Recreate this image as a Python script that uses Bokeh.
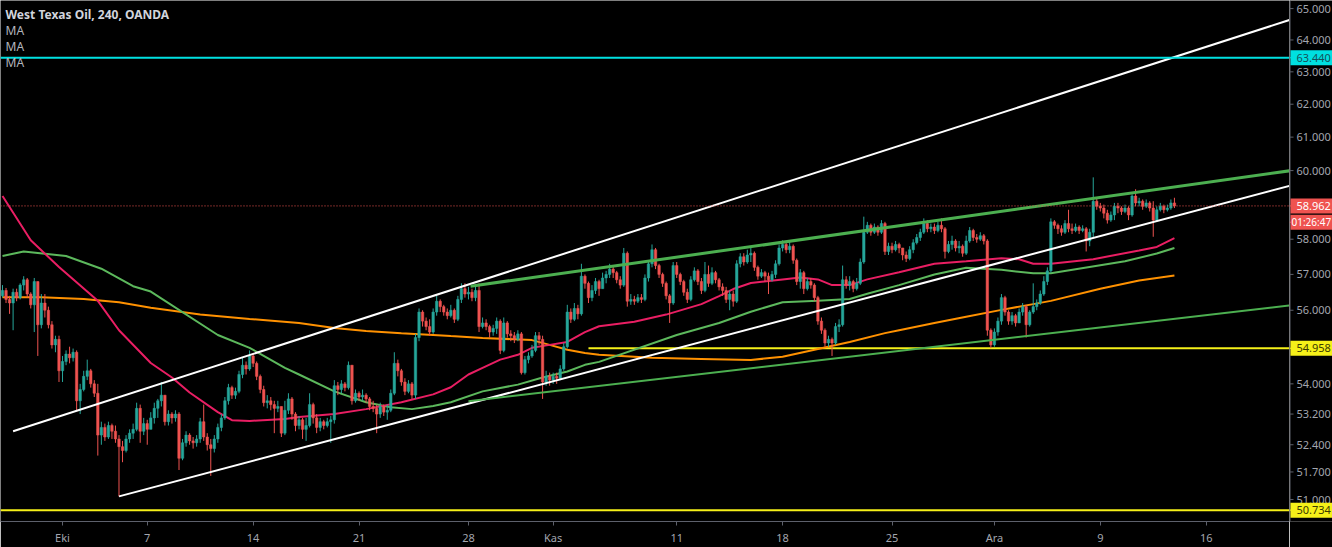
from bokeh.plotting import figure
from bokeh.models import Range1d, FixedTicker, Label, Span, ColumnDataSource
from bokeh.layouts import row
from bokeh.core.properties import value
from bokeh.embed import file_html
from bokeh.resources import INLINE

# ---------------- data ----------------
title_text = "West Texas Oil, 240, OANDA"
legend_texts = ["MA", "MA", "MA"]

first_open = 56.40
closes = [56.55, 56.30, 56.20, 56.50, 56.35, 56.70, 56.85, 56.45, 56.15, 56.80,
          55.60, 56.20, 56.00, 55.60, 55.05, 55.20, 54.35, 54.60, 54.80, 54.70,
          54.85, 53.55, 53.85, 54.20, 54.35, 54.00, 53.75, 52.65, 52.85, 52.60,
          52.90, 52.75, 52.55, 52.35, 52.25, 52.55, 52.70, 52.80, 53.35, 52.75,
          52.95, 52.80, 53.10, 53.35, 53.55, 53.70, 53.00, 53.20, 53.10, 53.20,
          52.05, 52.45, 52.65, 52.50, 52.45, 52.55, 53.00, 52.60, 52.40, 52.30,
          52.55, 52.85, 53.10, 53.55, 53.90, 53.70, 53.80, 54.25, 54.50, 54.40,
          54.75, 54.55, 54.20, 53.85, 53.50, 53.55, 53.45, 53.35, 53.40, 52.70,
          53.30, 53.60, 53.20, 52.90, 53.05, 52.80, 52.90, 53.45, 53.10, 52.85,
          53.00, 52.90, 53.00, 53.05, 53.95, 53.85, 54.00, 53.90, 54.50, 53.55,
          53.75, 53.65, 53.70, 53.60, 53.40, 53.35, 53.20, 53.40, 53.25, 53.30,
          53.75, 54.55, 54.35, 54.05, 53.80, 54.00, 53.70, 55.25, 55.95, 55.70,
          55.55, 55.40, 55.95, 56.25, 56.10, 55.95, 55.85, 56.00, 55.75, 56.30,
          56.60, 56.45, 56.50, 56.35, 56.55, 55.55, 55.65, 55.55, 55.40, 55.50,
          55.70, 54.90, 55.65, 55.35, 55.30, 55.20, 55.35, 54.30, 54.65, 54.75,
          54.90, 55.30, 55.20, 54.05, 54.20, 54.10, 54.20, 54.15, 54.40, 55.00,
          55.95, 55.75, 56.05, 55.90, 56.95, 56.75, 56.35, 56.55, 56.80, 56.60,
          56.90, 57.00, 57.15, 57.05, 56.85, 56.70, 57.60, 56.25, 56.30, 56.25,
          56.35, 56.30, 56.90, 57.30, 57.70, 57.25, 57.00, 56.75, 56.40, 56.20,
          57.25, 57.00, 56.80, 56.50, 56.30, 56.85, 57.10, 56.80, 56.55, 57.00,
          56.75, 57.05, 56.85, 56.65, 56.55, 56.30, 56.45, 56.25, 57.30, 57.50,
          57.35, 57.55, 57.60, 57.20, 56.95, 57.05, 56.95, 56.85, 57.00, 57.30,
          57.75, 57.85, 57.70, 57.80, 57.40, 56.80, 57.05, 56.60, 56.80, 56.70,
          56.35, 55.70, 55.45, 55.10, 55.20, 55.10, 55.55, 55.60, 56.85, 56.70,
          56.80, 56.60, 56.75, 57.35, 58.20, 58.40, 58.20, 58.35, 58.20, 58.45,
          57.65, 57.80, 57.70, 57.85, 57.75, 57.55, 57.45, 57.70, 57.90, 58.05,
          58.20, 58.45, 58.30, 58.35, 58.25, 58.40, 58.30, 57.65, 57.85, 57.95,
          57.75, 57.80, 57.60, 57.95, 58.25, 58.05, 58.00, 58.10, 57.95, 55.45,
          55.05, 55.40, 55.70, 56.35, 55.95, 55.70, 55.85, 55.65, 55.95, 56.10,
          55.60, 55.95, 56.10, 56.20, 56.45, 56.80, 57.10, 58.50, 58.40, 58.30,
          58.20, 58.45, 58.30, 58.25, 58.35, 58.25, 58.30, 57.95, 58.20, 59.10,
          58.95, 58.90, 58.75, 58.55, 58.70, 58.95, 58.90, 58.80, 58.90, 58.70,
          59.25, 59.05, 59.10, 58.95, 59.05, 58.90, 58.55, 58.85, 58.95, 58.85,
          58.90, 59.05, 58.96]
highs = [56.70, 56.62, 56.40, 56.60, 56.60, 56.75, 56.95, 56.90, 56.50, 56.90,
         56.80, 56.45, 56.45, 56.10, 55.70, 55.30, 55.30, 54.75, 54.90, 55.00,
         54.95, 54.90, 54.00, 54.35, 54.65, 54.40, 54.10, 54.00, 53.00, 52.95,
         53.00, 52.95, 52.90, 52.65, 52.50, 52.65, 52.80, 52.95, 53.50, 53.45,
         53.10, 53.05, 53.25, 53.50, 53.60, 54.05, 53.70, 53.30, 53.25, 53.30,
         53.25, 52.55, 52.75, 52.70, 52.60, 52.65, 53.10, 53.45, 52.70, 52.55,
         52.65, 52.95, 53.20, 53.65, 54.00, 53.95, 53.90, 54.35, 54.70, 54.60,
         54.90, 54.80, 54.60, 54.25, 53.95, 53.70, 53.65, 53.55, 53.55, 53.40,
         53.55, 53.75, 53.65, 53.25, 53.15, 53.10, 53.10, 53.75, 53.50, 53.20,
         53.10, 53.05, 53.10, 53.15, 54.10, 54.05, 54.10, 54.05, 54.60, 54.50,
         53.85, 53.80, 53.85, 53.75, 53.65, 53.55, 53.45, 53.50, 53.45, 53.45,
         53.85, 54.85, 54.65, 54.40, 54.15, 54.10, 54.05, 55.35, 56.05, 56.00,
         55.80, 55.75, 56.05, 56.40, 56.30, 56.15, 56.05, 56.15, 56.05, 56.40,
         56.75, 56.75, 56.65, 56.60, 56.70, 56.75, 55.80, 55.75, 55.60, 55.60,
         55.80, 55.75, 55.80, 55.70, 55.45, 55.40, 55.45, 55.40, 54.75, 54.85,
         55.05, 55.40, 55.40, 55.30, 54.35, 54.30, 54.30, 54.30, 54.50, 55.10,
         56.15, 56.05, 56.20, 56.15, 57.30, 57.00, 56.80, 56.70, 56.90, 56.85,
         57.05, 57.10, 57.30, 57.25, 57.10, 56.95, 57.75, 57.65, 56.45, 56.40,
         56.45, 56.45, 57.00, 57.40, 57.85, 57.75, 57.30, 57.05, 56.80, 56.45,
         57.35, 57.35, 57.05, 56.85, 56.60, 56.95, 57.20, 57.15, 56.90, 57.35,
         57.25, 57.20, 57.10, 56.90, 56.75, 56.65, 56.55, 56.55, 57.40, 57.60,
         57.60, 57.70, 57.75, 57.65, 57.25, 57.15, 57.10, 57.05, 57.10, 57.40,
         57.85, 57.97, 57.90, 57.95, 57.85, 57.45, 57.15, 57.10, 56.90, 56.90,
         56.75, 56.40, 55.80, 55.50, 55.30, 55.25, 55.65, 55.75, 57.25, 56.95,
         56.95, 56.85, 56.90, 57.45, 58.65, 58.50, 58.45, 58.45, 58.40, 58.55,
         58.50, 57.90, 57.90, 57.95, 57.90, 57.75, 57.65, 57.80, 58.00, 58.15,
         58.30, 58.60, 58.55, 58.45, 58.45, 58.50, 58.60, 58.35, 57.95, 58.10,
         58.00, 57.95, 57.85, 58.10, 58.35, 58.30, 58.15, 58.20, 58.15, 58.00,
         55.50, 55.50, 55.80, 56.45, 56.40, 56.00, 55.95, 55.90, 56.05, 56.20,
         56.15, 56.00, 56.75, 56.30, 56.55, 56.95, 57.20, 58.60, 58.55, 58.45,
         58.40, 58.55, 58.85, 58.45, 58.45, 58.40, 58.40, 58.35, 58.30, 59.80,
         59.20, 59.05, 59.00, 58.85, 58.80, 59.05, 59.05, 58.95, 59.00, 58.95,
         59.30, 59.45, 59.20, 59.15, 59.15, 59.10, 59.10, 58.95, 59.05, 59.00,
         59.00, 59.15, 59.20]
lows = [56.35, 56.20, 55.90, 55.45, 56.25, 56.30, 56.55, 56.35, 56.05, 55.40,
        54.75, 55.50, 55.80, 55.50, 54.95, 54.85, 54.05, 54.05, 54.50, 54.55,
        54.60, 53.30, 53.20, 53.80, 54.10, 53.90, 53.65, 52.12, 52.40, 52.50,
        52.55, 52.55, 52.45, 51.08, 51.95, 52.20, 52.45, 52.55, 52.75, 52.45,
        52.65, 52.40, 52.80, 52.95, 53.10, 53.40, 52.90, 52.90, 52.95, 53.00,
        51.75, 52.00, 52.35, 52.40, 52.30, 52.35, 52.45, 52.50, 52.25, 51.60,
        52.20, 52.45, 52.75, 53.05, 53.45, 53.60, 53.60, 53.75, 54.15, 54.25,
        54.35, 54.45, 54.10, 53.75, 53.40, 53.35, 53.30, 52.70, 53.25, 52.60,
        52.65, 53.20, 53.05, 52.75, 52.80, 52.55, 52.50, 52.85, 52.95, 52.70,
        52.75, 52.80, 52.85, 52.45, 52.95, 53.70, 53.75, 53.80, 53.85, 53.45,
        53.50, 53.55, 53.55, 53.50, 53.30, 53.25, 52.70, 53.10, 53.15, 53.05,
        53.25, 53.70, 54.20, 53.95, 53.70, 53.75, 53.60, 53.60, 55.15, 55.55,
        55.45, 55.30, 55.35, 55.85, 55.95, 55.85, 55.75, 55.80, 55.65, 55.70,
        56.20, 56.35, 56.30, 56.25, 56.25, 55.40, 55.50, 55.45, 55.25, 55.30,
        55.35, 54.80, 54.85, 55.25, 55.15, 55.10, 55.15, 54.25, 54.25, 54.55,
        54.70, 54.85, 55.05, 53.60, 53.95, 53.95, 54.00, 54.00, 54.10, 54.35,
        54.95, 55.65, 55.70, 55.75, 55.85, 56.60, 56.20, 56.25, 56.45, 56.40,
        56.60, 56.75, 56.90, 56.90, 56.75, 56.60, 56.65, 56.10, 56.15, 56.15,
        56.20, 56.20, 56.25, 56.80, 57.20, 57.15, 56.90, 56.65, 56.30, 55.65,
        56.15, 56.90, 56.70, 56.40, 56.20, 56.25, 56.80, 56.70, 56.45, 56.50,
        56.65, 56.70, 56.75, 56.55, 56.40, 56.20, 56.00, 56.10, 56.20, 57.20,
        57.25, 57.30, 57.35, 57.10, 56.85, 56.90, 56.80, 56.45, 56.80, 56.90,
        57.25, 57.65, 57.60, 57.60, 57.30, 56.70, 56.60, 56.45, 56.55, 56.60,
        56.25, 55.60, 55.35, 55.00, 55.00, 54.75, 55.05, 55.40, 55.55, 56.60,
        56.55, 56.50, 56.55, 56.70, 57.30, 58.15, 58.10, 58.15, 58.10, 58.15,
        57.55, 57.55, 57.60, 57.65, 57.60, 57.40, 57.35, 57.40, 57.60, 57.85,
        57.95, 58.15, 58.20, 58.20, 58.15, 58.20, 58.20, 57.45, 57.60, 57.70,
        57.65, 57.60, 57.50, 57.55, 57.90, 57.95, 57.90, 57.95, 57.85, 55.30,
        54.96, 55.00, 55.30, 55.60, 55.85, 55.60, 55.60, 55.55, 55.65, 55.85,
        55.25, 55.55, 55.90, 56.00, 56.15, 56.40, 56.70, 57.05, 58.30, 58.15,
        58.10, 58.15, 58.20, 58.15, 58.20, 58.15, 58.20, 57.65, 57.80, 58.05,
        58.85, 58.80, 58.60, 58.45, 58.50, 58.55, 58.75, 58.70, 58.75, 58.55,
        58.65, 58.95, 58.95, 58.85, 58.90, 58.80, 58.07, 58.50, 58.80, 58.75,
        58.80, 58.85, 58.90]

# moving averages (bar index, price)
ma_fast_idx = [0, 8, 16, 27, 33, 42, 48, 53, 61, 65, 70, 80, 84, 94, 103, 113, 122, 127, 132, 136,
               141, 146, 150, 155, 160, 165, 169, 179, 188, 198, 203, 207, 212, 221, 226, 231, 235,
               240, 245, 254, 264, 273, 283, 288, 292, 297, 309, 322, 327, 332]
ma_fast_val = [59.25, 57.97, 57.21, 56.26, 55.45, 54.56, 54.17, 53.77, 53.25, 53.04, 53.02, 53.07,
               53.12, 53.20, 53.33, 53.51, 53.72, 53.91, 54.25, 54.43, 54.65, 54.78, 54.97, 55.05,
               55.13, 55.40, 55.56, 55.68, 55.88, 56.17, 56.39, 56.59, 56.76, 56.86, 56.91, 56.86,
               56.70, 56.70, 56.86, 57.06, 57.30, 57.37, 57.46, 57.43, 57.30, 57.30, 57.43, 57.68,
               57.78, 58.03]
ma_mid_idx = [0, 6, 18, 28, 37, 42, 61, 70, 75, 80, 84, 94, 103, 110, 116, 122, 127, 136, 146, 153,
              160, 165, 169, 191, 203, 212, 221, 231, 240, 245, 254, 264, 273, 278, 283, 292, 297,
              318, 327, 332]
ma_mid_val = [57.52, 57.65, 57.52, 57.16, 56.67, 56.52, 55.32, 54.97, 54.70, 54.43, 54.25, 53.80,
              53.51, 53.38, 53.33, 53.41, 53.51, 53.80, 53.98, 54.17, 54.33, 54.51, 54.59, 55.32,
              55.65, 55.96, 56.22, 56.26, 56.31, 56.46, 56.70, 57.00, 57.19, 57.16, 57.13, 57.03,
              57.03, 57.37, 57.59, 57.75]
ma_slow_idx = [0, 11, 23, 33, 42, 56, 70, 84, 94, 103, 113, 122, 127, 136, 150, 155, 160, 165, 169,
               184, 198, 212, 221, 231, 240, 250, 254, 264, 273, 283, 292, 297, 311, 322, 332]
ma_slow_val = [56.36, 56.36, 56.31, 56.22, 56.07, 55.88, 55.76, 55.65, 55.51, 55.43, 55.37, 55.32,
               55.29, 55.24, 55.18, 55.05, 54.92, 54.83, 54.78, 54.70, 54.67, 54.64, 54.73, 54.94,
               55.13, 55.37, 55.45, 55.65, 55.82, 56.01, 56.17, 56.26, 56.60, 56.83, 56.97]

# drawn trend lines: (x0, price0, x1, price1)
white_lines = [(3, 52.75, 365, 64.65), (33, 51.08, 365, 59.56)]
green_lines = [(132.6, 56.67, 365, 60.00), (132, 53.54, 365, 56.14)]
green_line_widths = [3, 2]

level_cyan = 63.440
level_last = 58.962
level_yellow_mid = 54.958
level_yellow_mid_start = 166
level_yellow_low = 50.734
countdown_text = "01:26:47"

x_tick_pos = [17, 41, 71, 101, 132, 156, 191, 221, 252, 281, 311, 341]
x_tick_labels = ["Eki", "7", "14", "21", "28", "Kas", "11", "18", "25", "Ara", "9", "16"]
y_ticks = [51.0, 51.7, 52.4, 53.2, 54.0, 56.0, 57.0, 58.0, 60.0, 61.0, 62.0, 63.0, 64.0, 65.0]

# ---------------- styles / layout ----------------
UP = "#26a69a"
DOWN = "#ef5350"
BG = "#000000"
AXIS_TXT = "#a3a6af"
AXIS_LINE = "#5d606b"
CYAN = "#00e0e0"
YELLOW = "#f5f019"
FONT = "Noto Sans"
W_MAIN, W_AXIS, H, H_XAXIS = 1289, 43, 547, 25
Y_TOP, Y_BOT = 65.26, 50.45
X_RANGE = (-0.57, 364.6)
countdown_y = 58.49

idx = list(range(len(closes)))
opens = [first_open] + closes[:-1]
tops = [max(o, c) for o, c in zip(opens, closes)]
bots = [min(o, c) for o, c in zip(opens, closes)]
hi = [max(h, t) for h, t in zip(highs, tops)]
lo = [min(l, b) for l, b in zip(lows, bots)]
colors = [UP if c >= o else DOWN for o, c in zip(opens, closes)]
src = ColumnDataSource(dict(x=idx, top=tops, bottom=bots, hi=hi, lo=lo, color=colors))

y_range = Range1d(Y_BOT, Y_TOP)

# ---------- main chart ----------
p = figure(width=W_MAIN, height=H, x_range=Range1d(*X_RANGE),
           y_range=y_range, y_axis_type="log", y_axis_location=None,
           output_backend="svg", toolbar_location=None,
           min_border_left=0, min_border_top=0, min_border_right=0, min_border_bottom=H_XAXIS)
p.background_fill_color = BG
p.border_fill_color = BG
p.outline_line_color = None
p.xgrid.visible = False
p.ygrid.visible = False

p.xaxis.ticker = FixedTicker(ticks=x_tick_pos)
p.xaxis.major_label_overrides = {k: v for k, v in zip(x_tick_pos, x_tick_labels)}
ax = p.xaxis[0]
ax.axis_line_color = AXIS_LINE
ax.major_tick_line_color = AXIS_LINE
ax.minor_tick_line_color = None
ax.major_tick_out = 4
ax.major_tick_in = 0
ax.major_label_text_color = AXIS_TXT
ax.major_label_text_font = FONT
ax.major_label_text_font_size = "11px"
ax.major_label_standoff = 4

# horizontal levels
p.add_layout(Span(location=level_cyan, dimension="width", line_color=CYAN, line_width=2))
p.add_layout(Span(location=level_yellow_low, dimension="width", line_color=YELLOW, line_width=2))
p.add_layout(Span(location=level_last, dimension="width", line_color=DOWN, line_width=1,
                  line_dash="1 2"))
p.segment(x0=[level_yellow_mid_start], y0=[level_yellow_mid], x1=[X_RANGE[1] + 5],
          y1=[level_yellow_mid], line_color=YELLOW, line_width=2)

# moving averages
p.line(ma_slow_idx, ma_slow_val, line_color="#ff9100", line_width=2)
p.line(ma_mid_idx, ma_mid_val, line_color="#5cb85c", line_width=2)
p.line(ma_fast_idx, ma_fast_val, line_color="#e91e63", line_width=2)

# candles
p.segment(x0="x", y0="lo", x1="x", y1="hi", line_color="color", line_width=1, source=src)
p.vbar(x="x", width=0.7, top="top", bottom="bottom", fill_color="color", line_color="color",
       line_width=0.5, source=src)

# trend lines
for (x0, y0, x1, y1) in white_lines:
    p.line([x0, x1], [y0, y1], line_color="#ffffff", line_width=2)
for (x0, y0, x1, y1), w in zip(green_lines, green_line_widths):
    p.line([x0, x1], [y0, y1], line_color="#4caf50", line_width=w)

# top-left legend
p.add_layout(Label(x=5, y=H - H_XAXIS - 15, x_units="screen", y_units="screen", text=title_text,
                   text_font=FONT, text_font_size="12px", text_color="#d1d4dc",
                   text_baseline="middle", text_font_style="bold"))
for k, t in enumerate(legend_texts):
    p.add_layout(Label(x=5, y=H - H_XAXIS - 31 - 16 * k, x_units="screen", y_units="screen",
                       text=t, text_font=FONT, text_font_size="12px", text_color="#b2b5be",
                       text_baseline="middle"))

# ---------- right price-scale strip (shares the log price range) ----------
s = figure(width=W_AXIS, height=H, x_range=Range1d(0, W_AXIS), y_range=y_range,
           y_axis_type="log", x_axis_location=None, y_axis_location=None,
           output_backend="svg", toolbar_location=None,
           min_border_left=0, min_border_top=0, min_border_right=0, min_border_bottom=H_XAXIS)
s.background_fill_color = BG
s.border_fill_color = BG
s.outline_line_color = None
s.xgrid.visible = False
s.ygrid.visible = False

s.segment(x0=[0.5], y0=[Y_BOT * 0.99], x1=[0.5], y1=[Y_TOP * 1.01], line_color=AXIS_LINE,
          line_width=1)
s.segment(x0=[0] * len(y_ticks), y0=y_ticks, x1=[4] * len(y_ticks), y1=y_ticks,
          line_color=AXIS_LINE, line_width=1)
s.text(x=[7] * len(y_ticks), y=y_ticks, text=[f"{t:.3f}" for t in y_ticks],
       text_font=value(FONT), text_font_size="11px", text_color=AXIS_TXT,
       text_baseline="middle", text_align="left")

tag_y = [level_cyan, level_last, countdown_y, level_yellow_mid, level_yellow_low]
tag_txt = [f"{level_cyan:.3f}", f"{level_last:.3f}", countdown_text,
           f"{level_yellow_mid:.3f}", f"{level_yellow_low:.3f}"]
tag_bg = [CYAN, DOWN, DOWN, YELLOW, YELLOW]
tag_fg = ["#16505a", "#ffffff", "#ffffff", "#3a3a00", "#3a3a00"]
tag_x = [7, 7, 2, 7, 7]
tag_size = ["11px", "11px", "10px", "11px", "11px"]
s.rect(x=[22] * len(tag_y), y=tag_y, width=[42] * len(tag_y), height=15, height_units="screen",
       fill_color=tag_bg, line_color=None)
s.segment(x0=[0] * len(tag_y), y0=tag_y, x1=[4] * len(tag_y), y1=tag_y, line_color=tag_bg)
s.text(x=tag_x, y=tag_y, text=tag_txt, text_font=value(FONT), text_font_size=tag_size,
       text_color=tag_fg, text_baseline="middle", text_align="left")

layout = row(p, s)
open("out.html", "w").write(file_html(layout, INLINE))
